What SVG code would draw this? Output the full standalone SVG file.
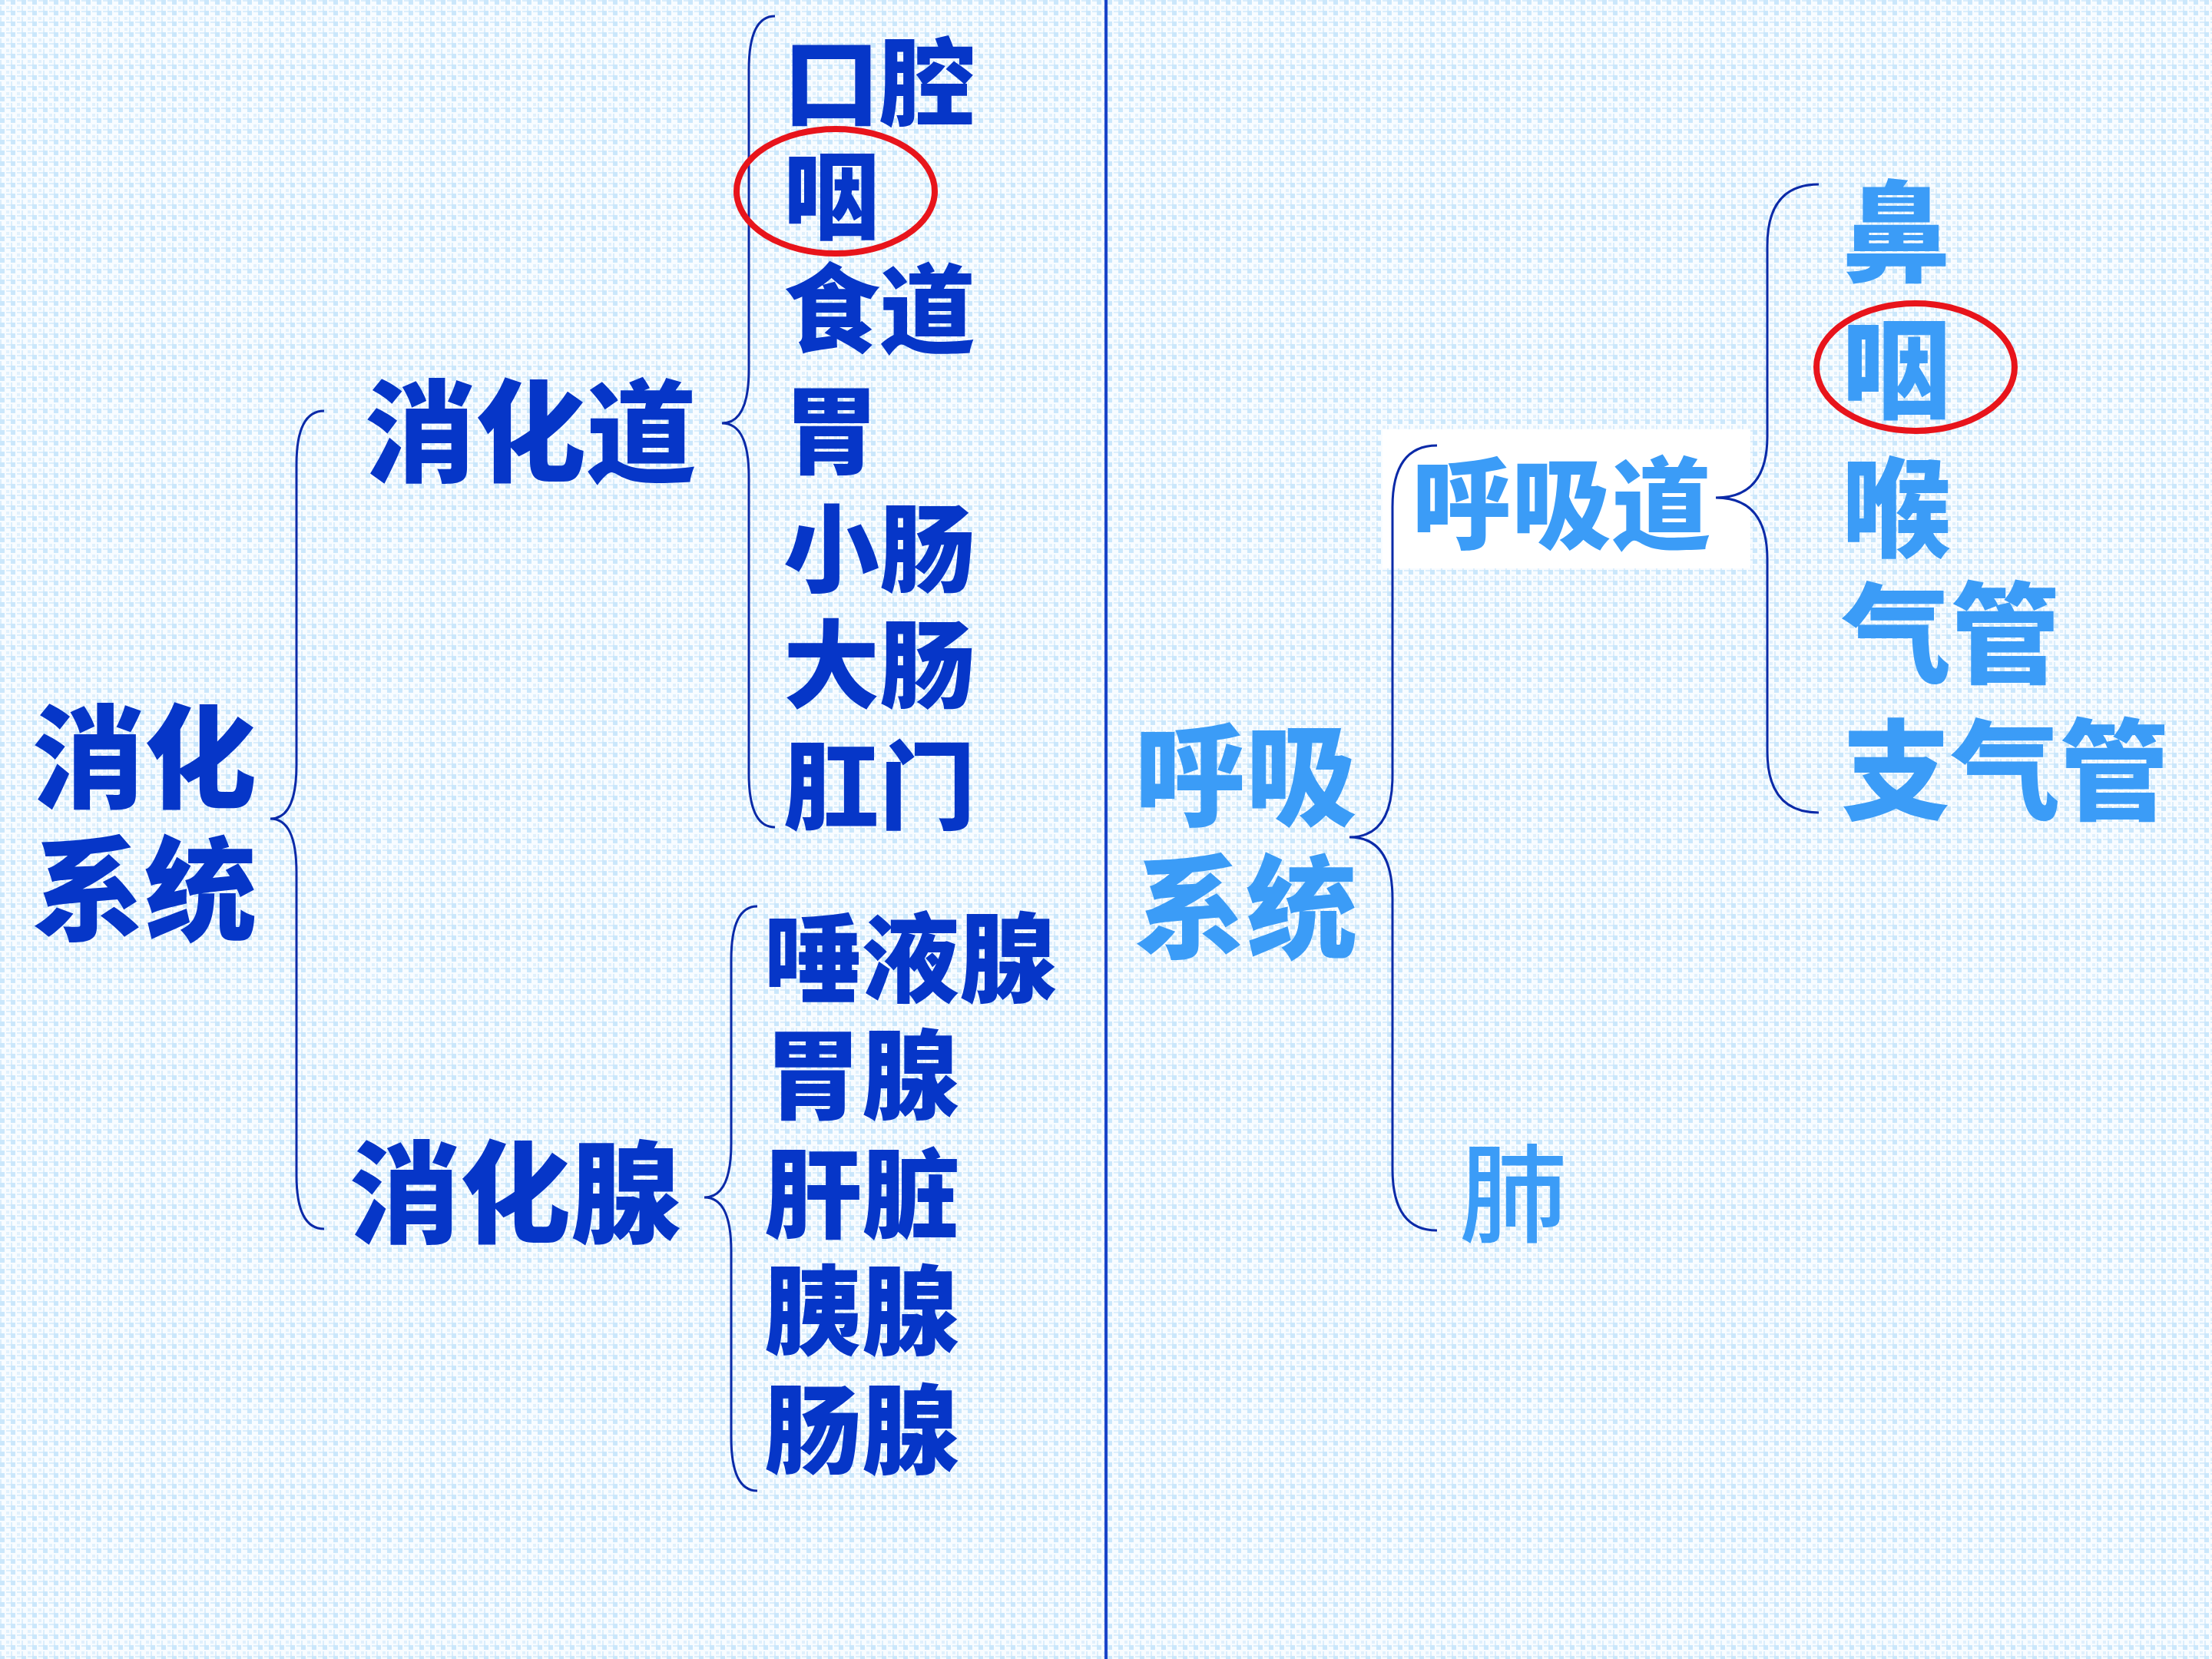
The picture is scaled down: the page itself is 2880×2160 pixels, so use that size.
<svg xmlns="http://www.w3.org/2000/svg" width="2880" height="2160" viewBox="0 0 2880 2160">
<defs>
<pattern id="bg" width="14" height="14" patternUnits="userSpaceOnUse">
<rect width="14" height="14" fill="#f8fcff"/>
<rect x="0" y="0" width="6" height="6" fill="#cbe7fb"/>
<rect x="8" y="0" width="6" height="2" fill="#dbeefc"/>
<rect x="0" y="8" width="2" height="6" fill="#dbeefc"/>
<rect x="8" y="8" width="4" height="4" fill="#e0f0fc"/>
</pattern>
</defs>
<style>
.d{font-family:"Noto Sans CJK SC",sans-serif;font-weight:900;fill:#0636c8}
.r{font-family:"Noto Sans CJK SC",sans-serif;font-weight:900;fill:#3b9cf7}
.brace{fill:none;stroke:#0b2aa8;stroke-width:3}
.ring{fill:none;stroke:#e8141b;stroke-width:8}
</style>
<rect width="2880" height="2160" fill="url(#bg)"/>
<rect id="divider" x="1438" y="0" width="4" height="2160" fill="#1a44c8"/>
<rect id="rect-bg" x="1800" y="559" width="479" height="181" fill="#ffffff"/>
<g id="connectors">
<path class="brace" d="M422 535 Q386 535 386 605 L386 996 Q386 1066 352 1066 Q386 1066 386 1136 L386 1530 Q386 1600 422 1600"/>
<path class="brace" d="M1009 21 Q975 21 975 91 L975 481 Q975 551 940 551 Q975 551 975 621 L975 1007 Q975 1077 1009 1077"/>
<path class="brace" d="M986 1180 Q952 1180 952 1250 L952 1489 Q952 1559 917 1559 Q952 1559 952 1629 L952 1871 Q952 1941 986 1941"/>
<path class="brace" d="M1871 580 Q1813 580 1813 660 L1813 1010 Q1813 1090 1757 1090 Q1813 1090 1813 1170 L1813 1522 Q1813 1602 1871 1602"/>
<path class="brace" d="M2368 240 Q2301 240 2301 320 L2301 568 Q2301 648 2234 648 Q2301 648 2301 728 L2301 978 Q2301 1058 2368 1058"/>
</g>
<g id="digestive-system"><text class="d" x="42" y="1040" font-size="146">消化</text><text class="d" x="42" y="1212" font-size="146">系统</text></g>
<g id="digestive-tract"><text class="d" x="475" y="616" font-size="144">消化道</text></g>
<g id="digestive-glands"><text class="d" x="455" y="1607" font-size="144">消化腺</text></g>
<g id="tract-items" font-size="125">
<text class="d" x="1020" y="154">口腔</text>
<text class="d" x="1020" y="301">咽</text>
<text class="d" x="1020" y="449">食道</text>
<text class="d" x="1020" y="607">胃</text>
<text class="d" x="1020" y="761">小肠</text>
<text class="d" x="1020" y="912">大肠</text>
<text class="d" x="1020" y="1070">肛门</text>
</g>
<g id="gland-items" font-size="127">
<text class="d" x="995" y="1295">唾液腺</text>
<text class="d" x="995" y="1447">胃腺</text>
<text class="d" x="995" y="1602">肝脏</text>
<text class="d" x="995" y="1754">胰腺</text>
<text class="d" x="995" y="1909">肠腺</text>
</g>
<ellipse id="ring1" class="ring" cx="1088" cy="249" rx="129" ry="81"/>
<g id="respiratory-system"><text class="r" x="1477" y="1064" font-size="145">呼吸</text><text class="r" x="1477" y="1236" font-size="145">系统</text></g>
<g id="airway"><text class="r" x="1838" y="704" font-size="130">呼吸道</text></g>
<g id="lung"><text class="r" x="1900" y="1606" font-size="140" style="font-weight:500">肺</text></g>
<g id="airway-items" font-size="142">
<text class="r" x="2398" y="355">鼻</text>
<text class="r" x="2398" y="533">咽</text>
<text class="r" x="2398" y="714">喉</text>
<text class="r" x="2398" y="878">气管</text>
<text class="r" x="2398" y="1056">支气管</text>
</g>
<ellipse id="ring2" class="ring" cx="2494" cy="478" rx="129" ry="83"/>
</svg>
